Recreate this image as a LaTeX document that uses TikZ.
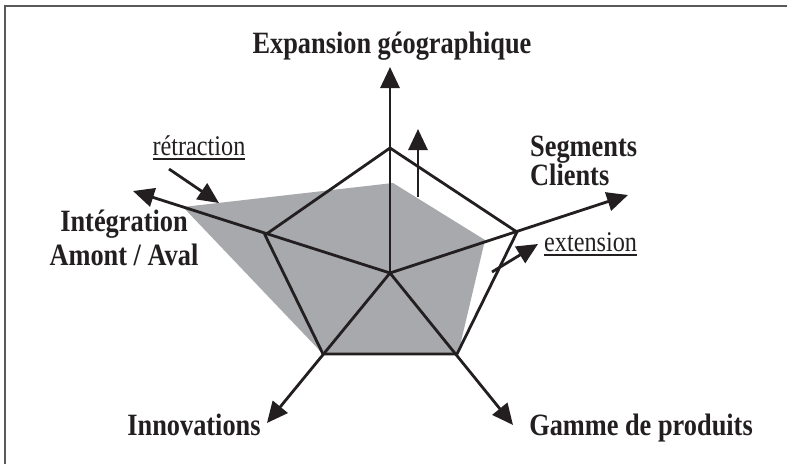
\documentclass[tikz,border=0pt]{standalone}
\usepackage{fontspec}
\setmainfont{Liberation Serif}[FakeStretch=0.85]
\usetikzlibrary{arrows.meta, positioning}
\definecolor{ink}{HTML}{231F20}
\definecolor{areagrey}{HTML}{A7A9AC}
\newcommand\undl[1]{\setbox0\hbox{#1}\leavevmode\rlap{\rule[-5pt]{\wd0}{1.8pt}}\box0}
\tikzset{
  axis/.style={draw=ink, line width=2.8pt, -{Triangle[length=21pt,width=19pt]}},
  lbl/.style={font=\fontsize{31}{27}\selectfont\bfseries, text=ink, inner sep=0pt},
  note/.style={font=\fontsize{28.5}{30}\selectfont, text=ink, inner sep=0pt}
}

\begin{document}
\begin{tikzpicture}[x=1pt, y=-1pt]
\useasboundingbox (0,0) rectangle (787,464);
\draw[black!65, line width=1.8pt] (5,464) -- (5,6) -- (787,6);

\coordinate (O) at (390,273);
\coordinate (eN) at (390,67);
\coordinate (eE) at (628,195);
\coordinate (eW) at (133,191);
\coordinate (eSW) at (267,423);
\coordinate (eSE) at (513,425);
\coordinate (pN) at (390,148);
\coordinate (pE) at (517,232);
\coordinate (pW) at (265,235);
\coordinate (pSW) at (323,354);
\coordinate (pSE) at (457,354);

\fill[areagrey] (183,207) -- (393,183) -- (485,240) -- (459,350) -- (pSE) -- (pSW) -- cycle;
\draw[ink, line width=2.8pt] (pN) -- (pE) -- (pSE) -- (pSW) -- (pW) -- cycle;

\draw[axis] (O) -- (eN);
\draw[axis] (O) -- (eE);
\draw[axis] (O) -- (eW);
\draw[axis] (O) -- (eSW);
\draw[axis] (O) -- (eSE);

\node[lbl, anchor=base] (geo) at (392,53) {Expansion géographique};
\node[lbl, align=left, anchor=north west] (seg) at (530,135.5) {Segments\\Clients};
\node[lbl, align=center, anchor=north] (integ) at (124,209.5) {Intégration\\[5pt]Amont / Aval};
\node[lbl, anchor=base] (inno) at (194,435) {Innovations};
\node[lbl, anchor=base] (gamme) at (641,435) {Gamme de produits};

\node[note, anchor=base] (ret) at (199,155) {\undl{rétraction}};
\node[note, anchor=base west] (ext) at (544,251) {\undl{extension}};

\coordinate (r0) at (169,169);
\coordinate (r1) at (219,203);
\coordinate (x0) at (492,272);
\coordinate (x1) at (538,244);
\coordinate (u0) at (418,197);
\coordinate (u1) at (418,129);
\draw[axis] (r0) -- (r1);
\draw[axis] (x0) -- (x1);
\draw[axis] (u0) -- (u1);
\end{tikzpicture}
\end{document}
